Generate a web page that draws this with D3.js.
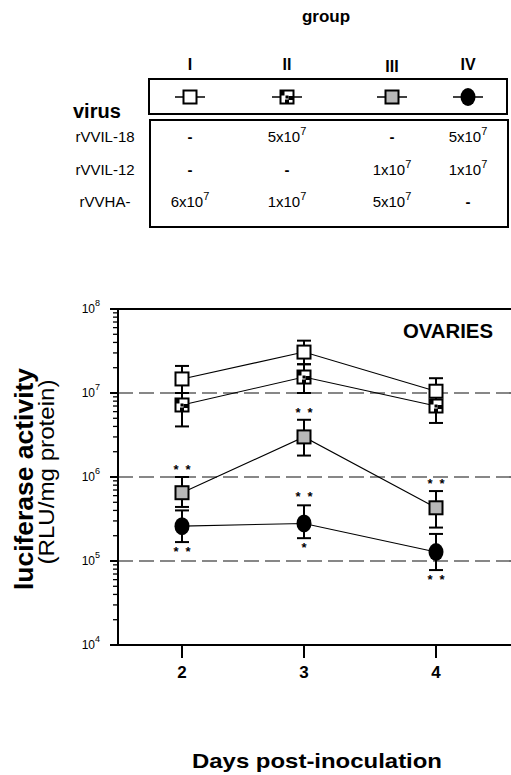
<!DOCTYPE html>
<html><head><meta charset="utf-8">
<script src="https://cdn.jsdelivr.net/npm/d3@7"></script>
<style>
body{margin:0;background:#fff;}
svg{display:block;font-family:Arial,"Liberation Sans",Helvetica,sans-serif;}
</style></head>
<body><svg id="c" width="511" height="775"></svg>
<script>
// ---------- data ----------
const days = [2, 3, 4];
const groups = ["I", "II", "III", "IV"];
const viruses = ["rVVIL-18", "rVVIL-12", "rVVHA-"];
// doses: [mantissa, exponent] or null for "-"; rows = viruses, cols = groups
const doseIL18 = [null, [5, 7], null, [5, 7]];
const doseIL12 = [null, null, [1, 7], [1, 7]];
const doseHA   = [[6, 7], [1, 7], [5, 7], null];

const meanI   = [1.47e7, 3.07e7, 1.05e7];
const hiI     = [2.1e7, 4.2e7, 1.5e7];
const loI     = [1.0e7, 2.2e7, 7.5e6];
const meanII  = [7.2e6, 1.55e7, 7.0e6];
const hiII    = [1.0e7, 2.2e7, 1.0e7];
const loII    = [4.0e6, 1.0e7, 4.4e6];
const meanIII = [6.5e5, 3.0e6, 4.3e5];
const hiIII   = [1.0e6, 4.8e6, 6.8e5];
const loIII   = [4.4e5, 1.8e6, 2.5e5];
const meanIV  = [2.6e5, 2.8e5, 1.28e5];
const hiIV    = [4.0e5, 4.6e5, 2.1e5];
const loIV    = [1.68e5, 1.87e5, 7.8e4];

const starsAboveIII = [2, 2, 2];
const starsAboveIV  = [0, 2, 0];
const starsBelowIV  = [2, 1, 2];

const yTickExps = [4, 5, 6, 7, 8];
const gridExps = [5, 6, 7];

// ---------- drawing ----------
const svg = d3.select("#c");
const plotL = 118, plotR = 511, plotT = 309, plotB = 645;
const x = d3.scaleLinear().domain(days).range([182, 304, 436]);
const y = d3.scaleLog().domain([1e4, 1e8]).range([plotB, plotT]);

// header
svg.append("text").attr("x", 326).attr("y", 22).attr("text-anchor", "middle")
  .attr("font-size", 17).attr("font-weight", "bold").text("group");

const colPos = {I: 190, II: 287, III: 392, IV: 468};
const gx = d3.scaleOrdinal().domain(groups).range(groups.map(g => colPos[g]));

svg.selectAll(".roman").data(groups).join("text")
  .attr("x", d => gx(d)).attr("y", (d, i) => i === 2 ? 72 : 70)
  .attr("text-anchor", "middle").attr("font-size", 16).attr("font-weight", "bold")
  .text(d => d);

// legend box + table box
svg.append("rect").attr("x", 149).attr("y", 79).attr("width", 358).attr("height", 35)
  .attr("fill", "none").attr("stroke", "#000").attr("stroke-width", 2);
svg.append("rect").attr("x", 150).attr("y", 120).attr("width", 358).attr("height", 107)
  .attr("fill", "none").attr("stroke", "#000").attr("stroke-width", 2);

svg.append("text").attr("x", 73).attr("y", 118).attr("font-size", 20)
  .attr("font-weight", "bold").text("virus");

// marker drawing function
function drawMarker(g, kind, cx, cy) {
  const s = 13;
  if (kind === 3) {
    g.append("ellipse").attr("cx", cx).attr("cy", cy).attr("rx", 7.5).attr("ry", 9)
      .attr("fill", "#000");
    return;
  }
  g.append("rect").attr("x", cx - s / 2).attr("y", cy - s / 2).attr("width", s).attr("height", s)
    .attr("fill", kind === 2 ? "#b8b8b8" : "#fff").attr("stroke", "#000").attr("stroke-width", 2);
  if (kind === 1) {
    g.append("rect").attr("x", cx - s / 2).attr("y", cy - s / 2).attr("width", 4).attr("height", 5).attr("fill", "#000");
    g.append("rect").attr("x", cx + s / 2 - 5).attr("y", cy - 1).attr("width", 5).attr("height", 4).attr("fill", "#000");
    g.append("rect").attr("x", cx - 2).attr("y", cy + s / 2 - 4).attr("width", 4).attr("height", 4).attr("fill", "#000");
    g.append("rect").attr("x", cx - 1.5).attr("y", cy - 1.5).attr("width", 3).attr("height", 3).attr("fill", "#000");
  }
}

// legend symbols
const leg = svg.append("g");
groups.forEach((gname, i) => {
  const cx = gx(gname), cy = 97;
  leg.append("line").attr("x1", cx - 15).attr("x2", cx + 15).attr("y1", cy).attr("y2", cy)
    .attr("stroke", "#000").attr("stroke-width", 1.5);
  drawMarker(leg, i, cx, cy);
});

// table rows
const rowY = d3.scalePoint().domain(viruses).range([142, 207]);
svg.selectAll(".vlab").data(viruses).join("text")
  .attr("x", 105).attr("y", d => rowY(d)).attr("text-anchor", "middle")
  .attr("font-size", 15).text(d => d);

const doseRows = [doseIL18, doseIL12, doseHA];
doseRows.forEach((row, ri) => {
  row.forEach((v, ci) => {
    const t = svg.append("text").attr("x", gx(groups[ci])).attr("y", rowY(viruses[ri]))
      .attr("text-anchor", "middle").attr("font-size", 15);
    if (v === null) { t.attr("font-weight", "bold").text("-"); }
    else {
      t.append("tspan").text(v[0] + "x10");
      t.append("tspan").attr("dy", -7).attr("font-size", 11).text(v[1]);
    }
  });
});

// ---------- plot ----------
const plot = svg.append("g");
plot.append("line").attr("x1", plotL).attr("x2", plotR).attr("y1", plotT).attr("y2", plotT)
  .attr("stroke", "#000").attr("stroke-width", 2);
plot.append("line").attr("x1", plotL - 8).attr("x2", plotR).attr("y1", plotB).attr("y2", plotB)
  .attr("stroke", "#000").attr("stroke-width", 2);
plot.append("line").attr("x1", plotL).attr("x2", plotL).attr("y1", plotT).attr("y2", plotB)
  .attr("stroke", "#000").attr("stroke-width", 2);

// gridlines
plot.selectAll(".grid").data(gridExps).join("line")
  .attr("x1", plotL).attr("x2", plotR)
  .attr("y1", d => y(Math.pow(10, d))).attr("y2", d => y(Math.pow(10, d)))
  .attr("stroke", "#111").attr("stroke-width", 1.2).attr("stroke-dasharray", "15,6");

// y ticks
const minorVals = [];
for (let e = 4; e < 8; e++) for (let m = 2; m <= 9; m++) minorVals.push(m * Math.pow(10, e));
plot.selectAll(".ymin").data(minorVals).join("line")
  .attr("x1", plotL - 5).attr("x2", plotL).attr("y1", d => y(d)).attr("y2", d => y(d))
  .attr("stroke", "#000").attr("stroke-width", 1.3);
plot.selectAll(".ymaj").data(yTickExps).join("line")
  .attr("x1", plotL - 8).attr("x2", plotL).attr("y1", d => y(Math.pow(10, d))).attr("y2", d => y(Math.pow(10, d)))
  .attr("stroke", "#000").attr("stroke-width", 2);
const yl = plot.selectAll(".ylab").data(yTickExps).join("text")
  .attr("x", 100).attr("y", d => y(Math.pow(10, d)) + 4).attr("text-anchor", "end")
  .attr("font-size", 12);
yl.append("tspan").text("10");
yl.append("tspan").attr("dy", -7).attr("font-size", 9).text(d => d);

// x ticks
plot.selectAll(".xt").data(days).join("line")
  .attr("x1", d => x(d)).attr("x2", d => x(d)).attr("y1", plotB).attr("y2", plotB + 13)
  .attr("stroke", "#000").attr("stroke-width", 2);
plot.selectAll(".xl").data(days).join("text")
  .attr("x", d => x(d)).attr("y", 678).attr("text-anchor", "middle")
  .attr("font-size", 17).attr("font-weight", "bold").text(d => d);

// series
const series = [
  {mean: meanI, hi: hiI, lo: loI, kind: 0},
  {mean: meanII, hi: hiII, lo: loII, kind: 1},
  {mean: meanIII, hi: hiIII, lo: loIII, kind: 2},
  {mean: meanIV, hi: hiIV, lo: loIV, kind: 3},
];
const line = d3.line().x((d, i) => x(days[i])).y(d => y(d));
series.forEach(s => {
  plot.append("path").attr("d", line(s.mean)).attr("fill", "none")
    .attr("stroke", "#000").attr("stroke-width", 1.1);
});
series.forEach(s => {
  const g = plot.append("g");
  days.forEach((dday, i) => {
    const cx = x(dday);
    g.append("line").attr("x1", cx).attr("x2", cx).attr("y1", y(s.hi[i])).attr("y2", y(s.lo[i]))
      .attr("stroke", "#000").attr("stroke-width", 2);
    [s.hi[i], s.lo[i]].forEach(v => {
      g.append("line").attr("x1", cx - 7).attr("x2", cx + 7).attr("y1", y(v)).attr("y2", y(v))
        .attr("stroke", "#000").attr("stroke-width", 2);
    });
  });
});
series.forEach(s => {
  days.forEach((dday, i) => drawMarker(plot, s.kind, x(dday), y(s.mean[i])));
});

// stars
function drawStars(n, cx, cyCenter) {
  for (let k = 0; k < n; k++) {
    plot.append("text").attr("x", cx + (k - (n - 1) / 2) * 12).attr("y", cyCenter + 7)
      .attr("text-anchor", "middle").attr("font-size", 13).attr("font-weight", "bold").text("*");
  }
}
days.forEach((dday, i) => {
  drawStars(starsAboveIII[i], x(dday), y(hiIII[i]) - 10);
  drawStars(starsAboveIV[i], x(dday), y(hiIV[i]) - 11);
  drawStars(starsBelowIV[i], x(dday), y(loIV[i]) + 7);
});

// OVARIES
plot.append("text").attr("x", 403).attr("y", 338).attr("font-size", 20).attr("font-weight", "bold")
  .attr("textLength", 90).attr("lengthAdjust", "spacingAndGlyphs").text("OVARIES");

// axis titles
svg.append("text").attr("transform", "translate(33,479) rotate(-90)").attr("text-anchor", "middle")
  .attr("font-size", 25).attr("font-weight", "bold")
  .attr("textLength", 222).attr("lengthAdjust", "spacingAndGlyphs").text("luciferase activity");
svg.append("text").attr("transform", "translate(54,472) rotate(-90)").attr("text-anchor", "middle")
  .attr("font-size", 22)
  .attr("textLength", 185).attr("lengthAdjust", "spacingAndGlyphs").text("(RLU/mg protein)");
svg.append("text").attr("x", 317).attr("y", 768).attr("text-anchor", "middle")
  .attr("font-size", 21).attr("font-weight", "bold")
  .attr("textLength", 250).attr("lengthAdjust", "spacingAndGlyphs").text("Days post-inoculation");
</script></body></html>
